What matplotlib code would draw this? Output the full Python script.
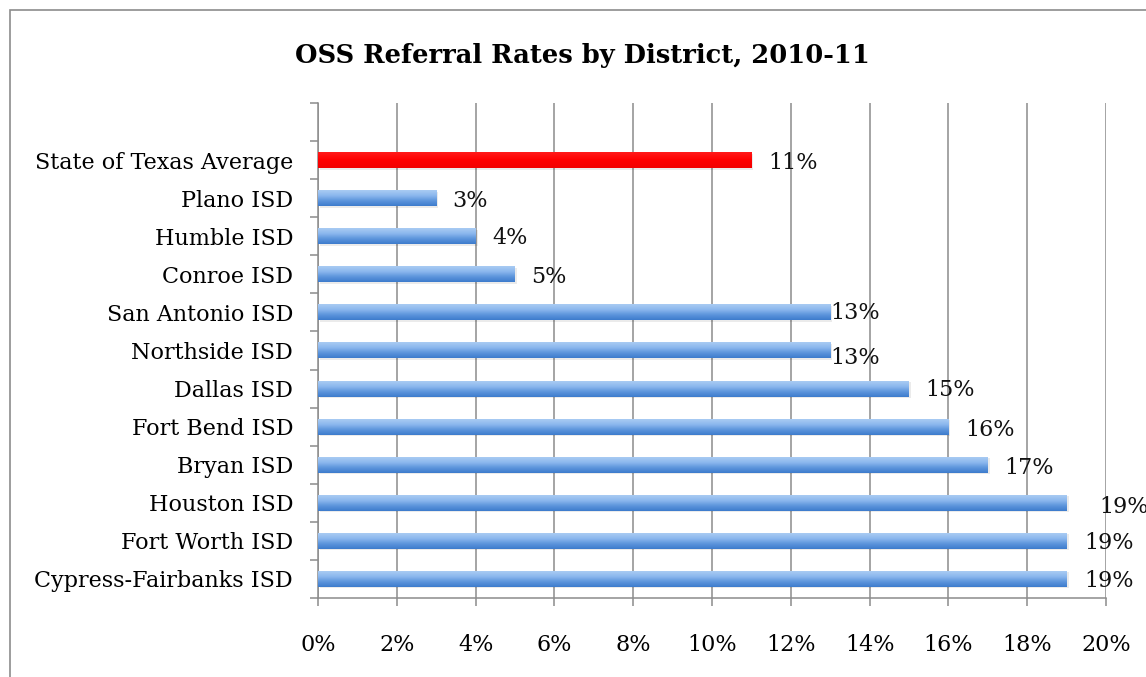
import numpy as np
import matplotlib.pyplot as plt
from matplotlib.patches import Rectangle

# data, bottom to top as drawn
districts = ["Cypress-Fairbanks ISD", "Fort Worth ISD", "Houston ISD", "Bryan ISD",
             "Fort Bend ISD", "Dallas ISD", "Northside ISD", "San Antonio ISD",
             "Conroe ISD", "Humble ISD", "Plano ISD", "State of Texas Average"]
rates = [19, 19, 19, 17, 16, 15, 13, 13, 5, 4, 3, 11]
value_labels = ["19%", "19%", "19%", "17%", "16%", "15%", "13%", "13%",
                "5%", "4%", "3%", "11%"]
xticks = list(range(0, 21, 2))

# label nudges in pixels (excel put some of them in odd places)
label_nudge = [(18, -2), (18, -2), (33, -4), (17, -3), (17, -3), (16, -1),
               (0, -8), (0, -1), (16, -3), (17, -2), (16, -3), (17, -3)]

plt.rcParams['font.family'] = ['DejaVu Serif', 'Liberation Serif']

fig = plt.figure(figsize=(11.46, 6.77), dpi=100)
ax = fig.add_axes([0.2775, 0.1167, 0.6876, 0.7312])

y = np.arange(len(districts))
bh = 0.42
grad = np.linspace(0, 1, 64).reshape(-1, 1)
blue_cm = plt.matplotlib.colors.LinearSegmentedColormap.from_list(
    "b", ["#3d7ccc", "#5d95dc", "#8cb8ee", "#a9cbf3"])
red_cm = plt.matplotlib.colors.LinearSegmentedColormap.from_list(
    "r", ["#f20000", "#ff0000", "#ff1a1a"])

for i, (v, name) in enumerate(zip(rates, districts)):
    cm = red_cm if name.startswith("State") else blue_cm
    # soft shadow
    ax.barh(y[i] - 0.04, v, height=bh, left=0.05, color="#000000", alpha=0.08,
            zorder=2, linewidth=0)
    bar = ax.barh(y[i], v, height=bh, color=cm(0.5), zorder=3, linewidth=0)[0]
    im = ax.imshow(grad, cmap=cm, aspect="auto", origin="lower",
                   extent=[0, v, y[i] - bh / 2, y[i] + bh / 2], zorder=3.5)
    im.set_clip_path(bar)
    dx, dy = label_nudge[i]
    ax.annotate(value_labels[i], (v, y[i]), xytext=(dx, dy),
                textcoords="offset pixels", ha="left", va="center",
                fontsize=16, color="#111111", annotation_clip=False, zorder=5)

ax.set_xlim(0, 20)
ax.set_ylim(-0.5, len(districts) + 0.5)
ax.set_xticks(xticks)
ax.set_xticklabels([f"{t}%" for t in xticks], fontsize=16)
ax.set_yticks(y)
ax.set_yticklabels(districts, fontsize=16)
ax.set_yticks(np.arange(-0.5, len(districts) + 1, 1), minor=True)

ax.grid(axis="x", color="#8c8c8c", linewidth=1.1, zorder=1)
ax.set_axisbelow(True)
for s in ["top", "right"]:
    ax.spines[s].set_visible(False)
for s in ["left", "bottom"]:
    ax.spines[s].set_color("#8c8c8c")
    ax.spines[s].set_linewidth(1.1)

ax.tick_params(axis="y", which="major", length=0, pad=18)
ax.tick_params(axis="y", which="minor", length=6, color="#8c8c8c", width=1.1)
ax.tick_params(axis="x", length=6, color="#8c8c8c", width=1.1, pad=20)

fig.text(0.508, 0.918, "OSS Referral Rates by District, 2010-11",
         ha="center", va="center", fontsize=18.5, fontweight="bold")

# outer chart frame, runs off the right and bottom edge
frame = Rectangle((10 / 1146, -0.05), 1.2, 1 - 10 / 677 + 0.05,
                  transform=fig.transFigure, fill=False,
                  edgecolor="#8c8c8c", linewidth=1.2, clip_on=False)
fig.patches.append(frame)

fig.savefig("out.png", dpi=100)
